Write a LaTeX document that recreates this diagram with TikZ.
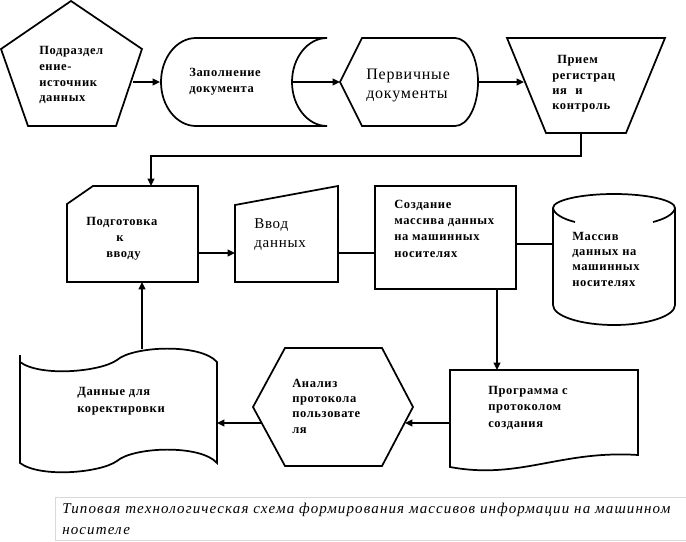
\documentclass[tikz,border=0pt]{standalone}
\usepackage{fontspec}
\setmainfont{Liberation Serif}
\newfontfamily\bfnt[LetterSpace=5]{Liberation Serif}
\newfontfamily\rgfnt[LetterSpace=5]{Liberation Serif}
\newfontfamily\itfnt[LetterSpace=7.5]{Liberation Serif Italic}
\usetikzlibrary{arrows.meta}
\newcommand\mylines[2]{\vtop{\baselineskip=#1\lineskiplimit=-20pt\relax #2}}
\begin{document}
\begin{tikzpicture}[x=0.75pt,y=-0.75pt,
  shp/.style={draw,line width=1.3pt,line join=miter},
  conn/.style={line width=1.3pt},
  arr/.style={conn,-{Triangle[length=5.5pt,width=5pt]}},
  txt/.style={anchor=base west,inner sep=0pt,font=\bfnt\bfseries\fontsize{9.4}{11}\selectfont},
  bigtxt/.style={anchor=base west,inner sep=0pt},
  captxt/.style={anchor=base west,inner sep=0pt,font=\itfnt\fontsize{11.25}{13}\selectfont}]
\useasboundingbox (0,0) rectangle (686,542);
% shapes
\draw[shp] (71,1) -- (142,49) -- (116,126) -- (28,126) -- (1,49) -- cycle;
\draw[shp] (196,38) -- (327,38)
  .. controls (307.7,38) and (292,57.8) .. (292,82)
  .. controls (292,106.2) and (307.7,126) .. (327,126)
  -- (196,126)
  .. controls (176.7,126) and (161,106.2) .. (161,82)
  .. controls (161,57.8) and (176.7,38) .. (196,38) -- cycle;
\draw[shp] (340,82) -- (362,38) -- (455,38)
  .. controls (467.7,38) and (478,57.8) .. (478,82)
  .. controls (478,106.2) and (467.7,126) .. (455,126)
  -- (362,126) -- cycle;
\draw[shp] (507,38) -- (665,38) -- (626,133) -- (546,133) -- cycle;
\draw[shp] (67,204) -- (93,186) -- (198,186) -- (198,282) -- (67,282) -- cycle;
\draw[shp] (235,205) -- (338,186) -- (338,282) -- (235,282) -- cycle;
\draw[shp] (375,186) rectangle (516,289);
% cylinder
\draw[shp] (553,208) -- (553,305)
  .. controls (553,316) and (580.4,325) .. (614,325)
  .. controls (647.6,325) and (675,316) .. (675,305)
  -- (675,208)
  .. controls (675,200.3) and (647.6,194) .. (614,194)
  .. controls (580.4,194) and (553,200.3) .. (553,208) -- cycle;
\draw[conn] (553,208) .. controls (554,214) and (563,219) .. (575,222);
\draw[conn] (653,222) .. controls (665,219) and (674,214) .. (675,208);
% document
\draw[shp] (450,370) -- (638,370) -- (638,455)
  .. controls (560,450) and (520,480) .. (450,467) -- cycle;
% hexagon
\draw[shp] (253,407) -- (285,348) -- (382,348) -- (413,407) -- (382,466) -- (285,466) -- cycle;
% punched tape
\draw[shp] (20,355) -- (20,463)
  .. controls (40,478) and (100,473) .. (117,461)
  .. controls (133,447) and (200,444) .. (217,463)
  -- (217,362)
  .. controls (200,343) and (133,346) .. (117,360)
  .. controls (100,372) and (40,377) .. (20,362);
% caption frame
\draw[black!15,line width=0.75pt] (690,497) -- (55,497) -- (55,540) -- (690,540);
% connector ends
\coordinate (pentR) at (133,82);
\coordinate (fillL) at (160,82);
\coordinate (fillR) at (292,82);
\coordinate (primL) at (340,82);
\coordinate (primR) at (478,82);
\coordinate (trapL) at (524,82);
\coordinate (trapB) at (581,133);
\coordinate (prepT) at (151,186);
\coordinate (prepR) at (198,253);
\coordinate (inpL) at (235,253);
\coordinate (inpR) at (338,253);
\coordinate (creL) at (375,253);
\coordinate (creR) at (516,244);
\coordinate (cylL) at (553,244);
\coordinate (creB) at (497,289);
\coordinate (progT) at (497,370);
\coordinate (progL) at (450,423);
\coordinate (hexR) at (405,423);
\coordinate (hexL) at (262,423);
\coordinate (dataR) at (217,423);
\coordinate (dataT) at (142,349);
\coordinate (prepB) at (142,282);
% connectors
\draw[arr] (pentR) -- (fillL);
\draw[arr] (fillR) -- (primL);
\draw[arr] (primR) -- (trapL);
\draw[arr] (trapB) -- ++(0,23) -| (prepT);
\draw[arr] (prepR) -- (inpL);
\draw[conn] (inpR) -- (creL);
\draw[conn] (creR) -- (cylL);
\draw[arr] (creB) -- (progT);
\draw[arr] (progL) -- (hexR);
\draw[arr] (hexL) -- (dataR);
\draw[arr] (dataT) -- (prepB);
% texts
\node[txt] (t1) at (39,55) {\mylines{11.75pt}{\hbox{Подраздел}\hbox{ение-}\hbox{источник}\hbox{данных}}};
\node[txt] (t2) at (189,77) {\mylines{12pt}{\hbox{Заполнение}\hbox{документа}}};
\node[bigtxt,font=\rgfnt\fontsize{12}{14}\selectfont] (t3) at (366,80) {\mylines{13.5pt}{\hbox{Первичные}\hbox{документы}}};
\node[txt] (t4) at (552,64) {\mylines{11.5pt}{\hbox{\hspace{3.75pt}Прием}\hbox{регистрац}\hbox{\makebox[17.25pt][l]{ия}и}\hbox{контроль}}};
\node[txt] (t5) at (86,225) {\mylines{12pt}{\hbox{Подготовка}\hbox{\hspace{22.5pt}к}\hbox{\hspace{15pt}вводу}}};
\node[bigtxt,font=\rgfnt\fontsize{11.25}{13}\selectfont] (t6) at (254,228) {\mylines{14.25pt}{\hbox{Ввод}\hbox{данных}}};
\node[txt] (t7) at (394,209) {\mylines{12pt}{\hbox{Создание}\hbox{массива данных}\hbox{на машинных}\hbox{носителях}}};
\node[txt] (t8) at (572,240) {\mylines{11.5pt}{\hbox{Массив}\hbox{данных на}\hbox{машинных}\hbox{носителях}}};
\node[txt] (t9) at (488,394) {\mylines{12.4pt}{\hbox{Программа с}\hbox{протоколом}\hbox{создания}}};
\node[txt] (t10) at (292,387) {\mylines{11.5pt}{\hbox{Анализ}\hbox{протокола}\hbox{пользовате}\hbox{ля}}};
\node[txt] (t11) at (77,395) {\mylines{12.75pt}{\hbox{Данные для}\hbox{коректировки}}};
\node[captxt] (cap) at (62,513) {\mylines{15.75pt}{\hbox{Типовая технологическая схема формирования массивов информации на машинном}\hbox{носителе}}};
\end{tikzpicture}
\end{document}
